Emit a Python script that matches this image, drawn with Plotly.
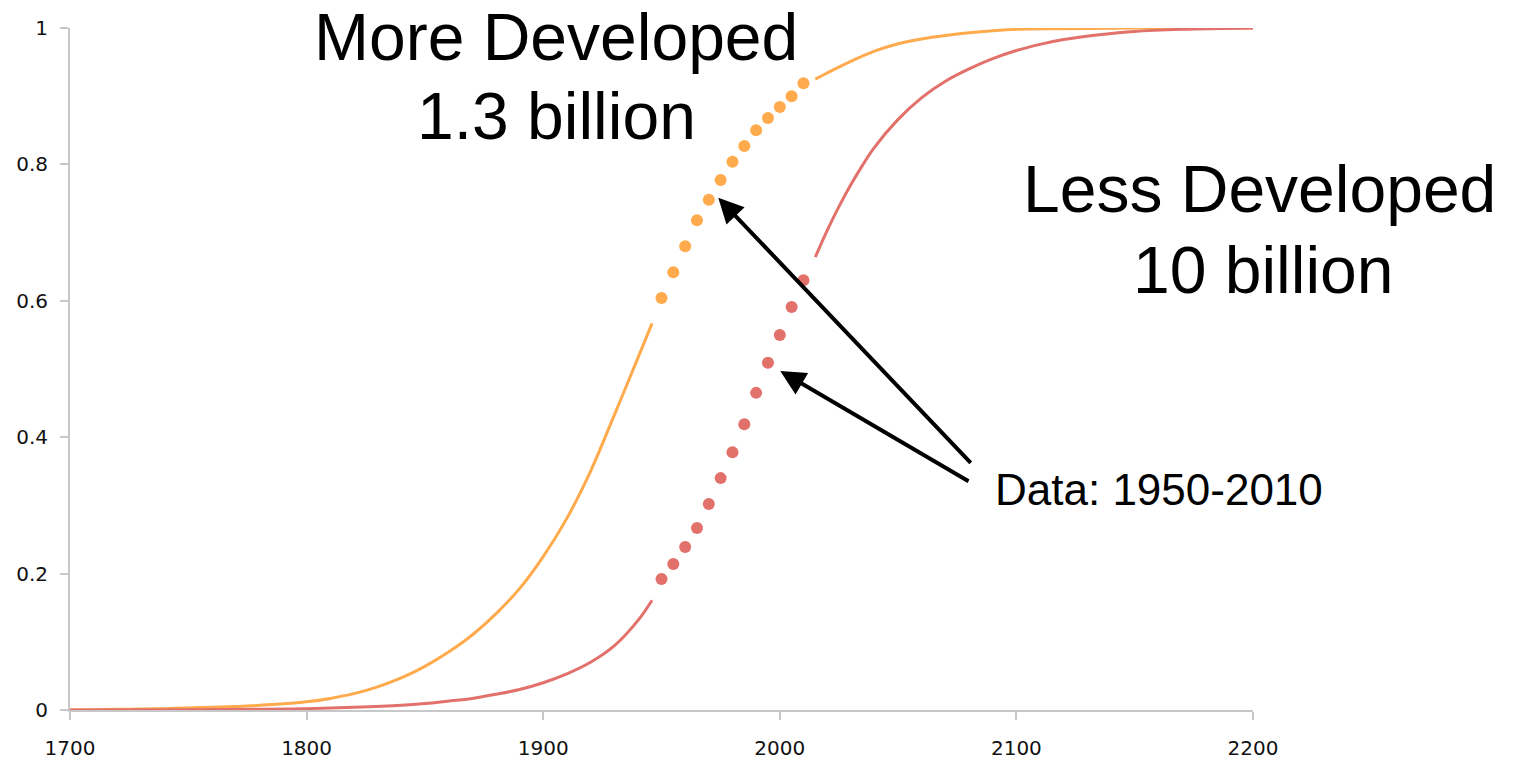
import plotly.graph_objects as go

# ---- data ----
data_years = [1950, 1955, 1960, 1965, 1970, 1975, 1980, 1985, 1990, 1995, 2000, 2005, 2010]
more_dev_data = [0.604, 0.642, 0.680, 0.718, 0.748, 0.777, 0.804, 0.827, 0.850, 0.868, 0.884, 0.900, 0.919]
less_dev_data = [0.192, 0.214, 0.239, 0.267, 0.302, 0.340, 0.378, 0.419, 0.465, 0.509, 0.550, 0.591, 0.630]

more_fit_early_x = [1700, 1710, 1720, 1730, 1740, 1750, 1760, 1770, 1780, 1790, 1800, 1810, 1820,
                    1830, 1840, 1850, 1860, 1870, 1880, 1890, 1900, 1910, 1920, 1930, 1940, 1946]
more_fit_early_y = [0.000, 0.0005, 0.001, 0.0015, 0.002, 0.003, 0.004, 0.005, 0.007, 0.009, 0.012, 0.017, 0.024,
                    0.034, 0.047, 0.064, 0.085, 0.110, 0.141, 0.178, 0.225, 0.281, 0.350, 0.432, 0.516, 0.567]
more_fit_late_x = [2015, 2020, 2030, 2040, 2050, 2060, 2070, 2080, 2090, 2100, 2120, 2150, 2200]
more_fit_late_y = [0.925, 0.934, 0.951, 0.966, 0.977, 0.984, 0.989, 0.993, 0.996, 0.998, 0.999, 1.000, 1.000]

less_fit_early_x = [1700, 1750, 1780, 1800, 1820, 1840, 1850, 1860, 1870, 1880, 1890, 1900,
                    1910, 1920, 1930, 1940, 1946]
less_fit_early_y = [0.000, 0.0005, 0.0012, 0.002, 0.004, 0.007, 0.0095, 0.013, 0.017, 0.023, 0.030, 0.040,
                    0.053, 0.070, 0.094, 0.131, 0.161]
less_fit_late_x = [2015, 2020, 2025, 2030, 2035, 2040, 2050, 2060, 2070, 2080, 2090, 2100, 2110, 2120,
                   2135, 2150, 2170, 2200]
less_fit_late_y = [0.664, 0.703, 0.738, 0.770, 0.799, 0.825, 0.866, 0.898, 0.922, 0.940, 0.955, 0.967, 0.976, 0.983,
                   0.990, 0.995, 0.998, 1.000]

x_ticks = [1700, 1800, 1900, 2000, 2100, 2200]
y_ticks = [0, 0.2, 0.4, 0.6, 0.8, 1]
y_tick_text = ["0", "0.2", "0.4", "0.6", "0.8", "1"]

ORANGE = "#FFAA4C"
RED = "#E2706B"

fig = go.Figure()
for xs, ys, c in [(more_fit_early_x, more_fit_early_y, ORANGE),
                  (more_fit_late_x, more_fit_late_y, ORANGE),
                  (less_fit_early_x, less_fit_early_y, RED),
                  (less_fit_late_x, less_fit_late_y, RED)]:
    fig.add_trace(go.Scatter(x=xs, y=ys, mode="lines",
                             line=dict(color=c, width=3, shape="spline", smoothing=1.0),
                             showlegend=False, hoverinfo="skip"))

fig.add_trace(go.Scatter(x=data_years, y=more_dev_data, mode="markers",
                         marker=dict(color=ORANGE, size=12), showlegend=False))
fig.add_trace(go.Scatter(x=data_years, y=less_dev_data, mode="markers",
                         marker=dict(color=RED, size=12), showlegend=False))

big = dict(family="Liberation Sans, Arial, sans-serif", size=66, color="black")
mid = dict(family="Liberation Sans, Arial, sans-serif", size=44, color="black")

annotations = [
    dict(x=0.4112, y=0.987, text="More Developed", font=big),
    dict(x=0.4112, y=0.871, text="1.3 billion", font=big),
    dict(x=1.0059, y=0.764, text="Less Developed", font=big),
    dict(x=1.0085, y=0.645, text="10 billion", font=big),
]
for a in annotations:
    a.update(xref="paper", yref="paper", showarrow=False, xanchor="center", yanchor="middle")

annotations.append(dict(x=0.780, y=0.323, xref="paper", yref="paper", text="Data: 1950-2010",
                        font=mid, showarrow=False, xanchor="left", yanchor="middle"))

for hx, hy, tx, ty in [(1974.0, 0.751, 2081.3, 0.360), (2000.2, 0.497, 2080.4, 0.334)]:
    annotations.append(dict(x=hx, y=hy, xref="x", yref="y", ax=tx, ay=ty, axref="x", ayref="y",
                            text="", showarrow=True, arrowhead=2, arrowsize=1.25,
                            arrowwidth=4, arrowcolor="black"))

tickfont = dict(family="DejaVu Sans, Verdana, sans-serif", size=20, color="#111111")
# the page body adds an 8px offset, margins compensate for it
fig.update_layout(
    width=1514, height=758,
    margin=dict(l=62, r=269, t=20, b=56, autoexpand=False),
    paper_bgcolor="white", plot_bgcolor="white",
    annotations=annotations,
    showlegend=False,
)
fig.update_xaxes(range=[1700, 2200], tickvals=x_ticks, showgrid=False, zeroline=False,
                 showline=True, linecolor="#C8C8C8", linewidth=2, automargin=False,
                 ticks="outside", ticklen=8, tickcolor="#C8C8C8", tickwidth=2,
                 ticklabelstandoff=11, tickfont=tickfont)
fig.update_yaxes(range=[0, 1], tickvals=y_ticks, ticktext=y_tick_text, showgrid=False, zeroline=False,
                 showline=True, linecolor="#C8C8C8", linewidth=2, automargin=False,
                 ticks="outside", ticklen=8, tickcolor="#C8C8C8", tickwidth=2,
                 ticklabelstandoff=8, tickfont=tickfont)

fig.write_html("out.html")
